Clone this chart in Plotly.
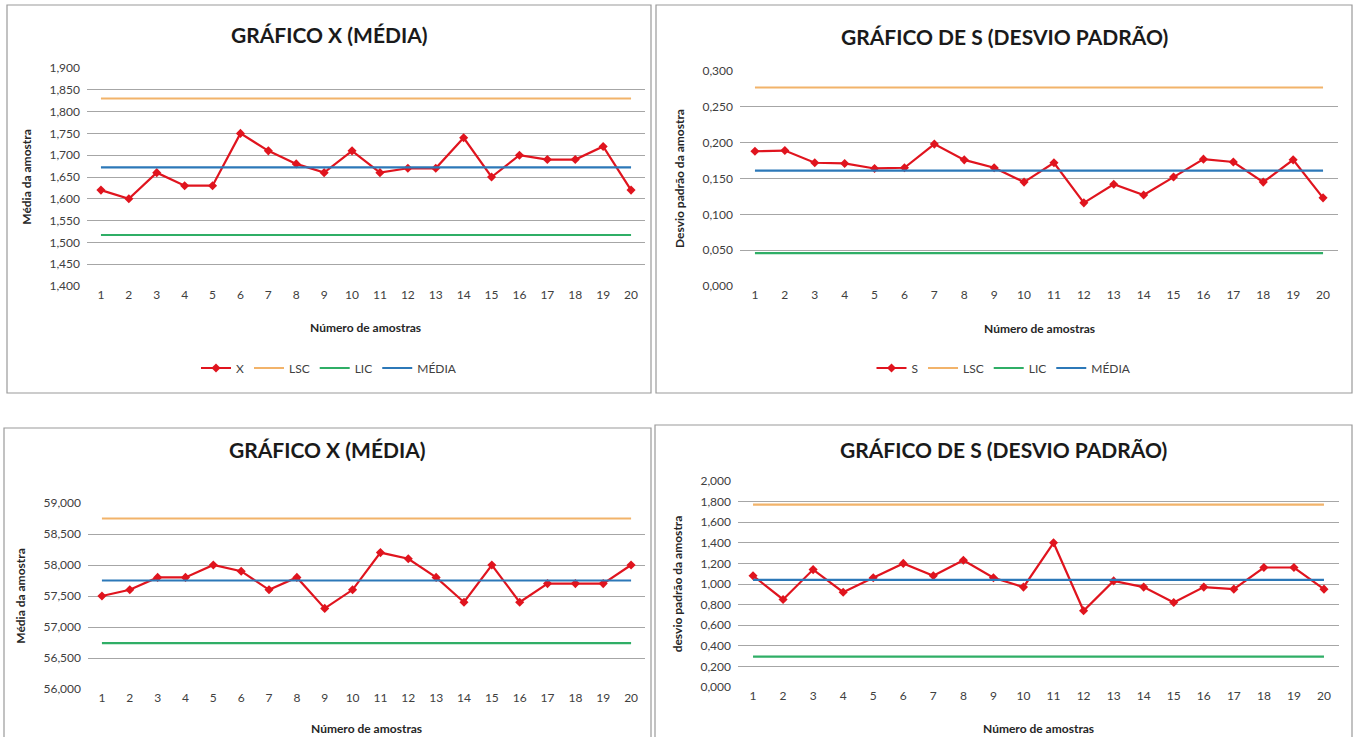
import plotly.graph_objects as go

W, H = 1356, 737

samples = list(range(1, 21))

# Panel 1: X chart (media)
x1_vals = [1.62, 1.60, 1.66, 1.63, 1.63, 1.75, 1.71, 1.68, 1.66, 1.71,
           1.66, 1.67, 1.67, 1.74, 1.65, 1.70, 1.69, 1.69, 1.72, 1.62]
x1_lsc, x1_lic, x1_media = 1.830, 1.517, 1.672

# Panel 2: S chart
s1_vals = [0.188, 0.189, 0.172, 0.171, 0.164, 0.165, 0.198, 0.176, 0.165, 0.145,
           0.172, 0.116, 0.142, 0.127, 0.152, 0.177, 0.173, 0.145, 0.176, 0.123]
s1_lsc, s1_lic, s1_media = 0.277, 0.046, 0.161

# Panel 3: X chart (media)
x2_vals = [57.5, 57.6, 57.8, 57.8, 58.0, 57.9, 57.6, 57.8, 57.3, 57.6,
           58.2, 58.1, 57.8, 57.4, 58.0, 57.4, 57.7, 57.7, 57.7, 58.0]
x2_lsc, x2_lic, x2_media = 58.75, 56.74, 57.75

# Panel 4: S chart
s2_vals = [1.08, 0.85, 1.14, 0.92, 1.06, 1.20, 1.08, 1.23, 1.06, 0.97,
           1.40, 0.74, 1.03, 0.97, 0.82, 0.97, 0.95, 1.16, 1.16, 0.95]
s2_lsc, s2_lic, s2_media = 1.77, 0.295, 1.04

RED = "#e0141e"
ORANGE = "#f2b36a"
GREEN = "#2fae66"
BLUE = "#2c78b8"
FONT = "Lato"

def px(x):
    return x / W

def py(y):
    return 1 - y / H

panels = [
    dict(vals=x1_vals, lsc=x1_lsc, lic=x1_lic, med=x1_media, name="X",
         title="GRÁFICO X (MÉDIA)", ytitle="Média da amostra",
         xdom=(87, 645), ytop=68, ybot=286, yr=(1.4, 1.9), dt=0.05,
         box=(7, 5, 651, 393), title_y=34, xt_y=327, leg_y=368, legend=True),
    dict(vals=s1_vals, lsc=s1_lsc, lic=s1_lic, med=s1_media, name="S",
         title="GRÁFICO DE S (DESVIO PADRÃO)", ytitle="Desvio padrão da amostra",
         xdom=(740, 1338), ytop=71, ybot=286, yr=(0.0, 0.3), dt=0.05,
         box=(656, 5, 1352, 393), title_y=36, xt_y=328, leg_y=368, legend=True),
    dict(vals=x2_vals, lsc=x2_lsc, lic=x2_lic, med=x2_media, name="X",
         title="GRÁFICO X (MÉDIA)", ytitle="Média da amostra",
         xdom=(88, 645), ytop=503, ybot=689, yr=(56.0, 59.0), dt=0.5,
         box=(4, 428, 651, 760), title_y=449, xt_y=728, leg_y=None, legend=False),
    dict(vals=s2_vals, lsc=s2_lsc, lic=s2_lic, med=s2_media, name="S",
         title="GRÁFICO DE S (DESVIO PADRÃO)", ytitle="desvio padrão da amostra",
         xdom=(738, 1339), ytop=481, ybot=687, yr=(0.0, 2.0), dt=0.2,
         box=(655, 425, 1352, 760), title_y=449, xt_y=728, leg_y=None, legend=False),
]

fig = go.Figure()
annotations = []
shapes = []
layout_axes = {}

for i, p in enumerate(panels, start=1):
    xa = "x" if i == 1 else f"x{i}"
    ya = "y" if i == 1 else f"y{i}"
    leg = "legend" if i == 1 else f"legend{i}"
    n = len(p["vals"])
    show = p["legend"]
    fig.add_trace(go.Scatter(x=samples, y=p["vals"], name=p["name"], mode="lines+markers",
                             line=dict(color=RED, width=2.2),
                             marker=dict(symbol="diamond", size=7, color=RED),
                             xaxis=xa, yaxis=ya, legend=leg, showlegend=show))
    for nm, val, col in [("LSC", p["lsc"], ORANGE), ("LIC", p["lic"], GREEN), ("MÉDIA", p["med"], BLUE)]:
        fig.add_trace(go.Scatter(x=samples, y=[val] * n, name=nm, mode="lines",
                                 line=dict(color=col, width=2.2),
                                 xaxis=xa, yaxis=ya, legend=leg, showlegend=show))

    xkey = "xaxis" if i == 1 else f"xaxis{i}"
    ykey = "yaxis" if i == 1 else f"yaxis{i}"
    layout_axes[xkey] = dict(
        domain=[px(p["xdom"][0]), px(p["xdom"][1])], anchor=ya,
        range=[0.5, 20.5], tickmode="linear", tick0=1, dtick=1,
        showgrid=False, zeroline=False, showline=False, ticks="",
        tickfont=dict(family=FONT, size=12, color="#404040"),
        fixedrange=True, automargin=False,
    )
    layout_axes[ykey] = dict(
        domain=[py(p["ybot"]), py(p["ytop"])], anchor=xa,
        range=[p["yr"][0], p["yr"][1]], tickmode="linear", tick0=p["yr"][0], dtick=p["dt"],
        tickformat=".3f", showgrid=True, gridcolor="#a6a6a6", gridwidth=1,
        zeroline=False, showline=False, ticks="", ticklabelstandoff=6,
        tickfont=dict(family=FONT, size=12, color="#404040"),
        title=dict(text=f"<b>{p['ytitle']}</b>", font=dict(family=FONT, size=12, color="#262626")),
        fixedrange=True, automargin=False,
    )
    cx = (p["box"][0] + p["box"][2]) / 2
    annotations.append(dict(text=f"<b>{p['title']}</b>", x=px(cx), y=py(p["title_y"]),
                            xref="paper", yref="paper", showarrow=False,
                            xanchor="center", yanchor="middle",
                            font=dict(family=FONT, size=21, color="#1a1a1a")))
    xc = (p["xdom"][0] + p["xdom"][1]) / 2
    annotations.append(dict(text="<b>Número de amostras</b>", x=px(xc), y=py(p["xt_y"]),
                            xref="paper", yref="paper", showarrow=False,
                            xanchor="center", yanchor="middle",
                            font=dict(family=FONT, size=12, color="#262626")))
    b = p["box"]
    shapes.append(dict(type="rect", xref="paper", yref="paper",
                       x0=px(b[0]), x1=px(b[2]), y0=py(b[3]), y1=py(b[1]),
                       line=dict(color="#9a9a9a", width=1.2), fillcolor="rgba(0,0,0,0)", layer="below"))
    if show:
        layout_axes[leg] = dict(orientation="h", x=px(cx), y=py(p["leg_y"]),
                                xref="paper", yref="paper",
                                xanchor="center", yanchor="middle",
                                font=dict(family=FONT, size=12, color="#404040"),
                                bgcolor="rgba(0,0,0,0)", visible=True)

fig.update_layout(
    width=W, height=H, margin=dict(l=0, r=0, t=0, b=0, autoexpand=False),
    paper_bgcolor="white", plot_bgcolor="white",
    separators=",.", showlegend=True,
    annotations=annotations, shapes=shapes,
    **layout_axes,
)

fig.write_html("out.html", include_plotlyjs=True, full_html=True,
               config=dict(displayModeBar=False))
